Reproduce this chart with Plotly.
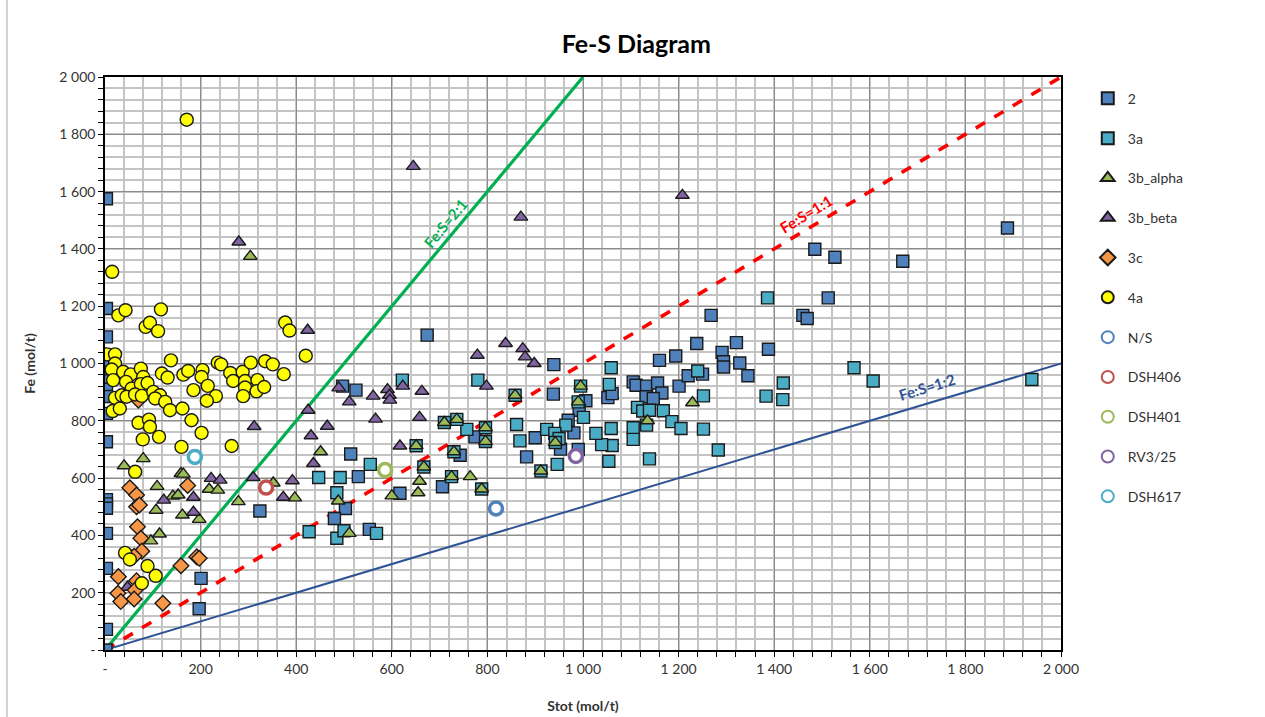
import plotly.graph_objects as go

# ---------------- data ----------------
s2_x = [3, 3, 3, 3, 3, 3, 3, 3, 3, 3, 3, 3, 3, 3, 3, 3, 3, 2,
        201, 197, 324, 674, 525, 497, 514, 530, 503, 480, 617, 553, 706, 743, 774,
        939, 938, 882, 900, 981, 953, 990, 1006, 992, 969, 1052, 1061,
        1105, 1111, 1133, 1156, 1165, 1132, 1147, 1160, 1194, 1201, 1220, 1250, 1238,
        1291, 1294, 1294, 1321, 1328, 1345, 1388, 1268, 1460, 1469, 1513, 1485, 1527, 1669, 1888]
s2_y = [1575, 1192, 1093, 1030, 1000, 970, 940, 910, 885, 826, 727, 525, 510, 495, 407, 285, 72, 0,
        250, 144, 485, 1099, 907, 921, 684, 605, 494, 459, 547, 421, 570, 680, 744,
        996, 893, 674, 741, 758, 701, 700, 870, 837, 802, 881, 895,
        936, 924, 921, 932, 897, 884, 878, 1011, 1026, 921, 957, 963, 1070,
        1039, 1006, 988, 1073, 1002, 957, 1050, 1168, 1168, 1157, 1229, 1399, 1371, 1357, 1473]

s3a_x = [1386, 622, 780, 1059, 1055, 1252, 1240, 1419, 1383, 1418, 1567, 1607, 1939,
         1114, 1125, 1139, 1168, 1186, 1205, 1252, 1105, 1105, 1059, 1061, 1039, 1054, 1139, 1283, 1133,
         861, 868, 924, 964, 1001, 1027, 946, 941, 950, 757,
         651, 710, 736, 730, 725, 667, 796, 796, 788, 858, 995, 990, 942, 912,
         555, 492, 447, 485, 427, 485, 500, 568]
s3a_y = [1229, 942, 942, 985, 927, 887, 974, 932, 886, 874, 985, 939, 944,
         847, 834, 837, 835, 797, 773, 771, 776, 735, 773, 714, 717, 659, 667, 698, 785,
         787, 730, 770, 785, 812, 756, 648, 756, 738, 770,
         713, 794, 805, 692, 605, 639, 776, 728, 562, 889, 921, 866, 724, 625,
         648, 602, 602, 549, 413, 390, 416, 407]

s3ba_x = [40, 80, 109, 107, 114, 96, 142, 153, 159, 164, 162, 197, 218, 236, 279, 352, 397, 304,
          451, 488, 511, 600, 655, 658, 764,
          651, 710, 736, 730, 725, 667, 796, 796, 788, 858, 995, 990, 942, 912, 1135, 1229]
s3ba_y = [643, 668, 571, 488, 405, 381, 537, 541, 616, 614, 471, 456, 561, 558, 518, 583, 531, 1374,
          692, 520, 407, 538, 549, 589, 605,
          713, 794, 805, 692, 605, 639, 776, 728, 562, 889, 921, 866, 724, 625, 800, 863]

s3bb_x = [280, 645, 870, 1208, 424, 425, 431, 436, 465, 312, 489, 511, 561, 591, 595, 596, 623, 663,
          566, 658, 617, 779, 798, 838, 874, 879, 898, 222, 241, 123, 185, 185, 310, 373, 392, 47]
s3bb_y = [1424, 1688, 1511, 1587, 1116, 837, 748, 651, 781, 780, 915, 866, 886, 909, 889, 872, 921, 903,
          806, 812, 712, 1029, 921, 1070, 1052, 1023, 1000, 599, 593, 523, 533, 481, 602, 533, 591, 219]

s3c_x = [70, 52, 66, 66, 72, 68, 75, 77, 56, 61, 28, 66, 63, 27, 33, 61, 121, 159, 192, 197, 173]
s3c_y = [872, 566, 541, 500, 506, 430, 390, 345, 322, 327, 256, 242, 209, 198, 169, 178, 163, 294, 325, 320, 574]

s4a_x = [171, 15, 28, 43, 117, 85, 94, 111, 377, 386, 420,
         4, 21, 21, 14, 17, 38, 54, 44, 56, 75, 80, 75, 89, 21, 35, 45, 63, 77, 101, 115, 105, 126, 136,
         16, 31, 138, 119, 131, 164, 174, 204, 202, 215, 185, 232, 213, 162, 181, 202, 70, 92, 94, 79,
         113, 160, 265, 236, 243, 262, 268, 288, 293, 293, 289, 305, 319, 317, 333, 335, 351, 374,
         63, 42, 52, 89, 106, 77]
s4a_y = [1851, 1320, 1168, 1186, 1189, 1128, 1142, 1113, 1143, 1115, 1027,
         1032, 1032, 1000, 979, 942, 971, 962, 936, 913, 982, 953, 928, 932, 880, 889, 884, 892, 887, 901, 889, 878, 866, 837,
         834, 843, 1011, 965, 951, 961, 974, 977, 953, 922, 907, 886, 870, 843, 802, 758, 793, 804, 779, 735,
         744, 709, 712, 1003, 997, 967, 939, 971, 939, 916, 886, 1003, 942, 903, 918, 1008, 997, 963,
         622, 339, 316, 293, 259, 233]

samples = ["N/S", "DSH406", "DSH401", "RV3/25", "DSH617"]
sample_x = [818, 337, 586, 985, 188]
sample_y = [494, 567, 628, 677, 674]
sample_colors = ["#4f81bd", "#c0504d", "#9bbb59", "#8064a2", "#4bacc6"]

ratio_names = ["Fe:S=2:1", "Fe:S=1:1", "Fe:S=1:2"]
ratio_x_end = [1000, 2000, 2000]
ratio_y_end = [2000, 2000, 1000]
ratio_label_x = [712, 1466, 1719]
ratio_label_y = [1492, 1523, 918]

tick_vals = [0, 200, 400, 600, 800, 1000, 1200, 1400, 1600, 1800, 2000]
tick_text = ["-", "200", "400", "600", "800", "1 000", "1 200", "1 400", "1 600", "1 800", "2 000"]

# ---------------- figure ----------------
FONT = "Lato, 'Liberation Sans', sans-serif"
fig = go.Figure()

ratio_colors = ["#00b050", "#ff0000", "#2f5496"]
ratio_widths = [3.2, 3.6, 2]
ratio_dash = ["solid", "dash", "solid"]
ratio_angle = [-50.2, -31.0, -16.7]
for i, nm in enumerate(ratio_names):
    fig.add_trace(go.Scatter(x=[0, ratio_x_end[i]], y=[0, ratio_y_end[i]], mode="lines",
                             line=dict(color=ratio_colors[i], width=ratio_widths[i], dash=ratio_dash[i]),
                             showlegend=False, hoverinfo="skip"))
    fig.add_annotation(x=ratio_label_x[i], y=ratio_label_y[i], text="<b>%s</b>" % nm, showarrow=False,
                       textangle=ratio_angle[i], font=dict(family=FONT, size=15, color=ratio_colors[i]))

edge = dict(color="#1a1a1a", width=1.4)


def add_series(name, xs, ys, symbol, color, size):
    fig.add_trace(go.Scatter(x=xs, y=ys, mode="markers", name=name, legendgroup=name,
                             marker=dict(symbol=symbol, color=color, size=size, line=edge)))


add_series("2", s2_x, s2_y, "square", "#4f81bd", 12)
add_series("3a", s3a_x, s3a_y, "square", "#4bacc6", 12)
add_series("3b_alpha", s3ba_x, s3ba_y, "triangle-up", "#9bbb59", 12)
add_series("3b_beta", s3bb_x, s3bb_y, "triangle-up", "#8064a2", 12)
add_series("3c", s3c_x, s3c_y, "diamond", "#f79646", 12)
add_series("4a", s4a_x, s4a_y, "circle", "#ffff00", 13)
for i, nm in enumerate(samples):
    fig.add_trace(go.Scatter(x=[sample_x[i]], y=[sample_y[i]], mode="markers", name=nm, legendgroup=nm,
                             marker=dict(symbol="circle", color="white", size=13,
                                         line=dict(color=sample_colors[i], width=3.5))))

axis_common = dict(range=[0, 2000], tickvals=tick_vals, ticktext=tick_text, automargin=False,
                   showgrid=True, gridcolor="#8c8c8c", gridwidth=1,
                   showline=True, linecolor="#000000", linewidth=1.5, mirror=True,
                   ticks="outside", ticklen=5, tickcolor="#000000", zeroline=False,
                   tickfont=dict(family=FONT, size=14, color="#333333"),
                   minor=dict(dtick=40, showgrid=True, gridcolor="#c4c4c4", gridwidth=1.6,
                              ticks="outside", ticklen=5, tickcolor="#000000"))

fig.update_layout(
    width=1265, height=717,
    margin=dict(l=105, r=204, t=77, b=67),
    paper_bgcolor="white", plot_bgcolor="white",
    title=dict(text="<b>Fe-S Diagram</b>", x=0.503, xanchor="center", y=0.938, yanchor="middle",
               font=dict(family=FONT, size=25, color="#000000")),
    xaxis=dict(**axis_common, title=dict(text="<b>Stot (mol/t)</b>", standoff=26,
                                         font=dict(family=FONT, size=14, color="#333333"))),
    yaxis=dict(**axis_common, title=dict(text="<b>Fe (mol/t)</b>", standoff=20,
                                         font=dict(family=FONT, size=14, color="#333333"))),
    legend=dict(x=1.028, xanchor="left", y=0.99, yanchor="top", tracegroupgap=18.6,
                font=dict(family=FONT, size=14, color="#333333"), itemsizing="constant",
                bgcolor="rgba(0,0,0,0)"),
    showlegend=True,
)
fig.add_shape(type="line", xref="paper", yref="paper", x0=-0.1025, x1=-0.1025, y0=-0.2, y1=1.2,
              line=dict(color="#a6a6a6", width=1))

fig.write_html("out.html")
